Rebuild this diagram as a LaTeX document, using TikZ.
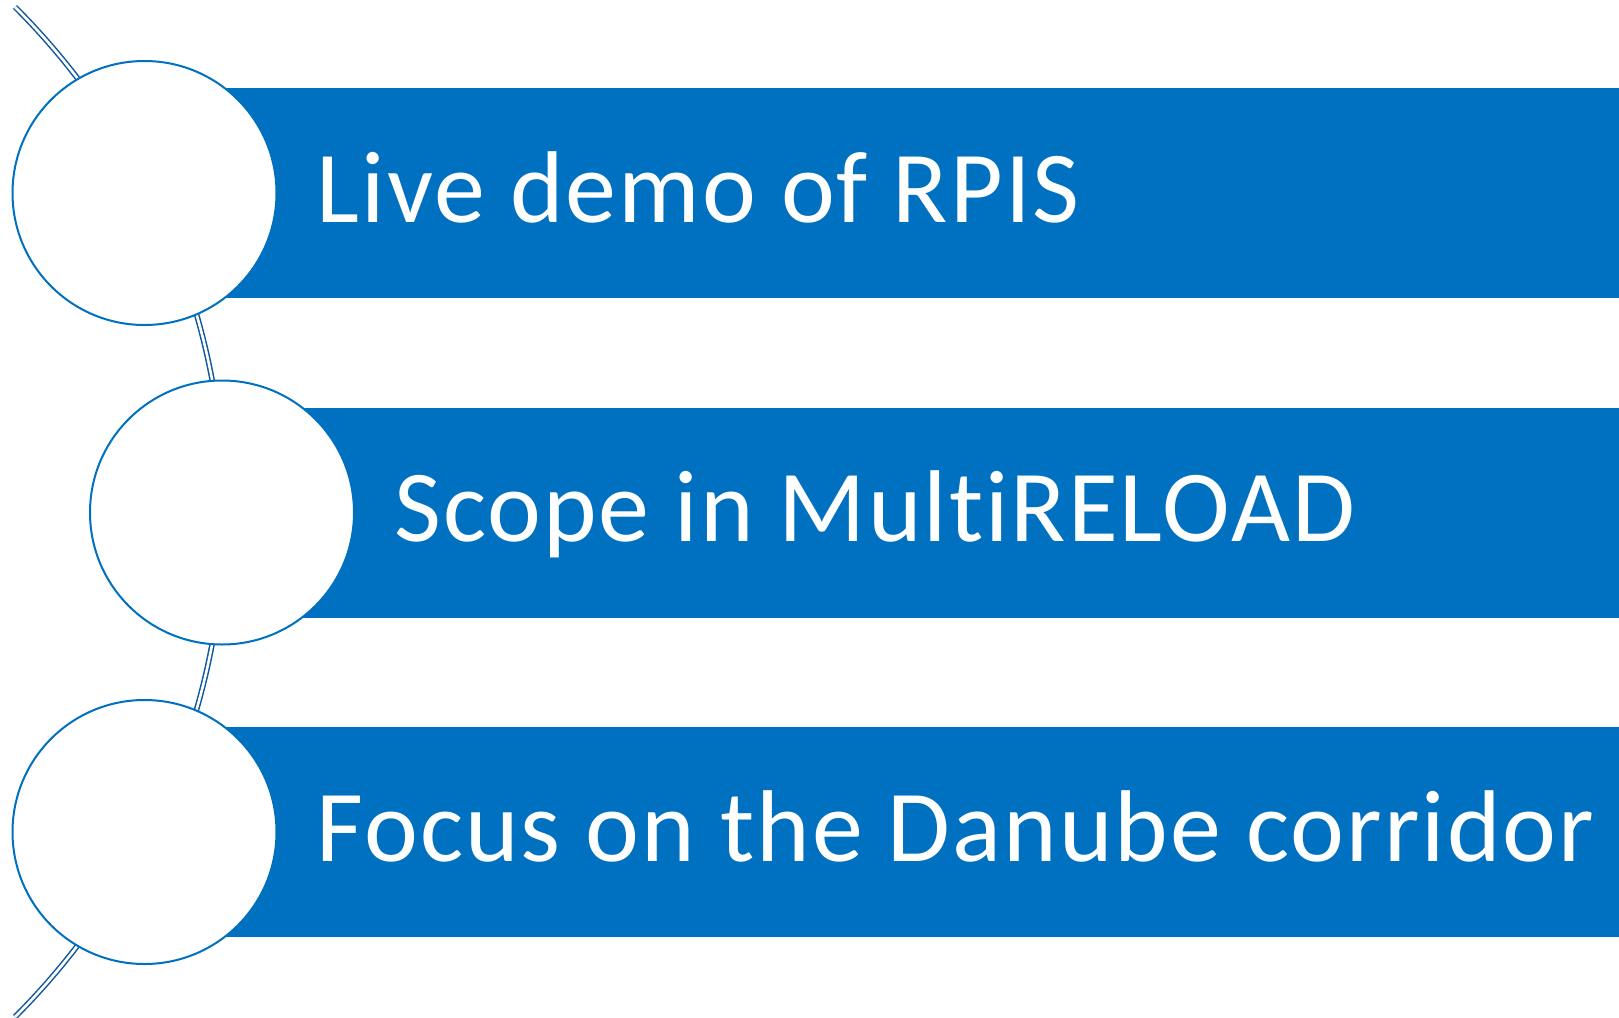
\documentclass[tikz,border=0pt]{standalone}
\usepackage{fontspec}
\setmainfont{Carlito}[Ligatures=NoCommon,LetterSpace=2]
\definecolor{barblue}{RGB}{0,112,192}
\definecolor{arcblue}{RGB}{16,88,158}

\begin{document}
\begin{tikzpicture}[x=0.5pt,y=-0.5pt,
    disc/.style={circle,draw=barblue,fill=white,line width=1pt,minimum size=132pt,inner sep=0pt},
    itemtext/.style={anchor=base west,text=white,inner sep=0pt,font=\fontsize{51}{60}\selectfont}]
  \useasboundingbox (0,0) rectangle (1619,1018);
  \draw[arcblue,line width=0.75pt,double=white,double distance=1.3pt]
    (15,7) arc[start angle=-45.06,end angle=45.06,radius=713.4];
  \foreach \cx/\cy/\txt [count=\i] in {144.5/193/Live demo of RPIS,
      222/512.5/Scope in MultiRELOAD,144.5/832/Focus on the Danube corridor}{
    \fill[barblue] (\cx,\cy-105) rectangle (1619,\cy+105);
    \node[disc] (disc\i) at (\cx,\cy) {};
    \node[itemtext] (item\i) at (\cx+172,\cy+29) {\txt};
  }
\end{tikzpicture}
\end{document}
